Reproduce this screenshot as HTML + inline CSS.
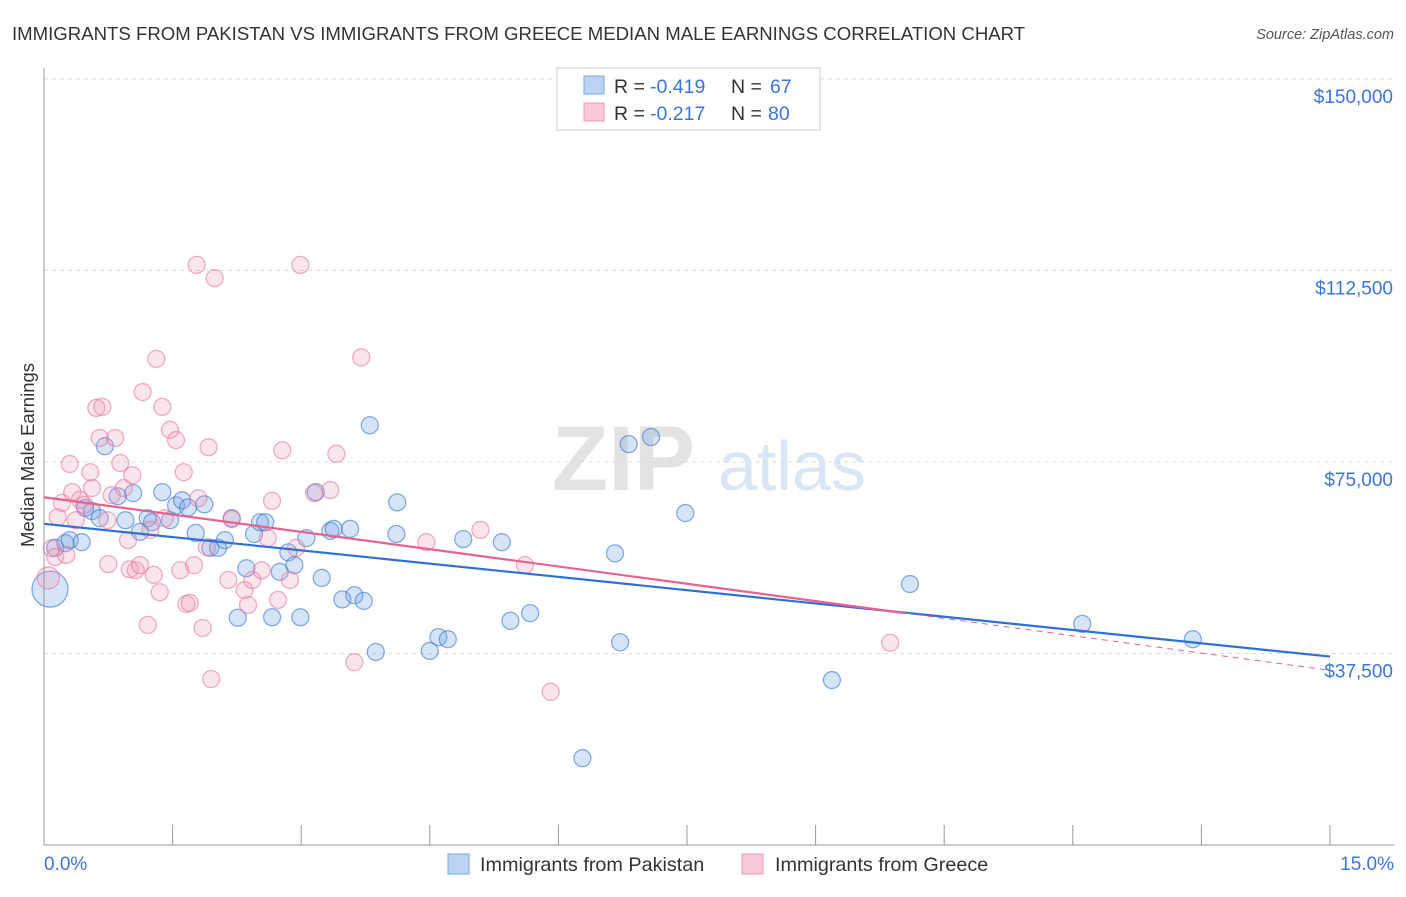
<!DOCTYPE html>
<html><head><meta charset="utf-8"><style>
body{margin:0;background:#fff;font-family:"Liberation Sans",sans-serif}
svg text{font-family:"Liberation Sans",sans-serif}
</style></head><body>
<svg width="1406" height="892" xmlns="http://www.w3.org/2000/svg" id="c">
<text x="12" y="40" font-size="18.6" fill="#333">IMMIGRANTS FROM PAKISTAN VS IMMIGRANTS FROM GREECE MEDIAN MALE EARNINGS CORRELATION CHART</text>
<text x="1394" y="39" font-size="14.5" fill="#555" text-anchor="end" font-style="italic">Source: ZipAtlas.com</text>
<text x="552" y="490" font-size="92" fill="#ddd" font-family="Liberation Serif" font-weight="bold" opacity="0.8">ZIP</text>
<text x="718" y="490" font-size="70" fill="#cfe0f3" opacity="0.8">atlas</text>
<text transform="translate(34,455) rotate(-90)" font-size="18.5" fill="#333" text-anchor="middle">Median Male Earnings</text>
<g id="grid"></g><g id="pts"></g><g id="lines"></g>
<line x1="44" y1="845" x2="1394" y2="845" stroke="#999" stroke-width="1"/>
<line x1="44" y1="68" x2="44" y2="845" stroke="#999" stroke-width="1"/>
<text x="44" y="870" font-size="19" fill="#3a76d8">0.0%</text>
<text x="1394" y="870" font-size="19" fill="#3a76d8" text-anchor="end">15.0%</text>
<g>
<rect x="557" y="68" width="263" height="62" fill="#fff" stroke="#ccc"/>
<rect x="584" y="76" width="20" height="18" fill="#bcd3f3" stroke="#7aa3e3"/>
<rect x="584" y="103" width="20" height="18" fill="#f9c9d7" stroke="#eb9ab4"/>
<text x="614" y="93" font-size="19.5" fill="#333">R =</text><text x="650" y="93" font-size="19.5" fill="#3a76d8">-0.419</text>
<text x="731" y="93" font-size="19.5" fill="#333">N =</text><text x="770" y="93" font-size="19.5" fill="#3a76d8">67</text>
<text x="614" y="120" font-size="19.5" fill="#333">R =</text><text x="650" y="120" font-size="19.5" fill="#3a76d8">-0.217</text>
<text x="731" y="120" font-size="19.5" fill="#333">N =</text><text x="768" y="120" font-size="19.5" fill="#3a76d8">80</text>
</g>
<g>
<rect x="448" y="854" width="21" height="20" fill="#bcd3f3" stroke="#7aa3e3"/>
<text x="480" y="871" font-size="19.8" fill="#333">Immigrants from Pakistan</text>
<rect x="742" y="854" width="21" height="20" fill="#f9c9d7" stroke="#eb9ab4"/>
<text x="775" y="871" font-size="19.8" fill="#333">Immigrants from Greece</text>
</g>
</svg>
<script>
const yTicks=[37500,75000,112500,150000];
const yTickLabels=["$37,500","$75,000","$112,500","$150,000"];
const xTicks=[0,1.5,3,4.5,6,7.5,9,10.5,12,13.5,15];
const pakX=[0.07,0.13,0.25,0.3,0.44,0.71,0.48,0.56,0.65,0.86,0.95,1.04,1.12,1.21,1.26,1.38,1.47,1.54,1.61,1.68,1.77,1.87,1.94,2.03,2.11,2.19,2.26,2.36,2.45,2.52,2.58,2.66,2.75,2.85,2.92,2.99,3.06,3.17,3.24,3.34,3.38,3.48,3.57,3.62,3.73,3.8,3.87,4.11,4.12,4.5,4.6,4.71,4.89,5.34,5.44,5.67,6.66,6.72,6.82,7.08,7.48,9.19,10.1,12.11,13.4,6.28];
const pakY=[50.1,58.2,59.1,59.7,59.3,78.1,66.0,65.4,64.0,68.3,63.6,68.9,61.3,64.0,63.2,69.1,63.6,66.5,67.5,66.1,61.1,66.7,58.2,58.2,59.7,64.0,44.5,54.2,60.9,63.2,63.2,44.6,53.5,57.3,54.8,44.6,60.1,69.1,52.3,61.5,61.9,48.1,61.9,48.9,47.8,82.2,37.8,60.9,67.1,38.0,40.7,40.3,59.9,59.3,43.9,45.4,57.1,39.7,78.5,79.9,65.0,32.3,51.1,43.3,40.3,17.0];
const grX=[0.05,0.09,0.13,0.16,0.21,0.26,0.30,0.33,0.37,0.42,0.47,0.54,0.56,0.61,0.65,0.68,0.74,0.75,0.79,0.83,0.89,0.93,0.98,1.00,1.03,1.07,1.12,1.15,1.21,1.24,1.28,1.31,1.35,1.38,1.41,1.47,1.54,1.59,1.63,1.66,1.70,1.75,1.78,1.80,1.85,1.90,1.92,1.95,1.99,2.15,2.19,2.34,2.38,2.43,2.54,2.61,2.66,2.73,2.78,2.87,2.94,2.99,3.15,3.34,3.41,3.62,3.70,4.46,5.09,5.61,5.91,9.87];
const grY=[52.3,58.1,56.4,64.2,67.0,56.8,74.6,69.1,63.6,67.6,66.6,73.0,69.9,85.6,79.7,85.8,63.6,55.0,68.5,79.7,74.8,69.9,59.7,54.0,72.4,53.8,54.8,88.7,43.1,61.7,52.9,95.2,49.5,85.8,64.0,81.3,79.3,53.8,73.0,47.2,47.4,54.8,113.6,67.9,42.5,58.3,77.9,32.5,111.0,51.9,63.8,49.9,47.0,51.9,53.8,60.1,67.4,48.0,77.3,51.9,58.2,113.6,68.9,69.5,76.6,35.8,95.5,59.3,61.7,54.8,30.0,39.6];
const pakLine=[62.9,36.9];
const grLine=[68.1,34.2];
const grSolidEnd=10.05;
const S="http://www.w3.org/2000/svg";
const X=v=>44+v/15*1286, Y=v=>845-v/37.5*191.5;
function mk(t,a,p){const e=document.createElementNS(S,t);for(const k in a)e.setAttribute(k,a[k]);p.appendChild(e);return e;}
const g=document.getElementById('grid');
yTicks.forEach((t,i)=>{
 const l=mk('line',{x1:44,x2:1394,y1:Y(t/1000),y2:Y(t/1000),stroke:'#ddd','stroke-dasharray':'4,4'},g);
 
 
 const tx=mk('text',{x:1393,y:Y(t/1000)+24,'font-size':19,fill:'#3a76d8','text-anchor':'end'},g);
 tx.textContent=yTickLabels[i];
 
 
});
xTicks.forEach(t=>{
 const l=mk('line',{x1:X(t),x2:X(t),y1:825,y2:845,stroke:'#999'},g);
 
 
});
const p=document.getElementById('pts');
pakX.forEach((v,i)=>{
 const c=mk('circle',{cx:X(v),cy:Y(pakY[i]),r:i==0?18:8.5,fill:'rgba(120,165,230,0.3)',stroke:'rgba(60,120,215,0.6)','stroke-width':1.3},p);
 
 
});
grX.forEach((v,i)=>{
 const c=mk('circle',{cx:X(v),cy:Y(grY[i]),r:i==0?11:8.5,fill:'rgba(240,150,180,0.25)',stroke:'rgba(230,110,150,0.55)','stroke-width':1.3},p);
 
 
});
const L=document.getElementById('lines');
const b=mk('line',{x1:X(0),y1:Y(pakLine[0]),x2:X(15),y2:Y(pakLine[1]),stroke:'#2f6fd6','stroke-width':2.2},L);


const gy=v=>grLine[0]+(grLine[1]-grLine[0])*v/15;
const r1=mk('line',{x1:X(0),y1:Y(gy(0)),x2:X(grSolidEnd),y2:Y(gy(grSolidEnd)),stroke:'#e8628e','stroke-width':2.2},L);


const r2=mk('line',{x1:X(grSolidEnd),y1:Y(gy(grSolidEnd)),x2:X(15),y2:Y(gy(15)),stroke:'#e8628e','stroke-width':1,'stroke-dasharray':'6,5'},L);


</script>
</body></html>
